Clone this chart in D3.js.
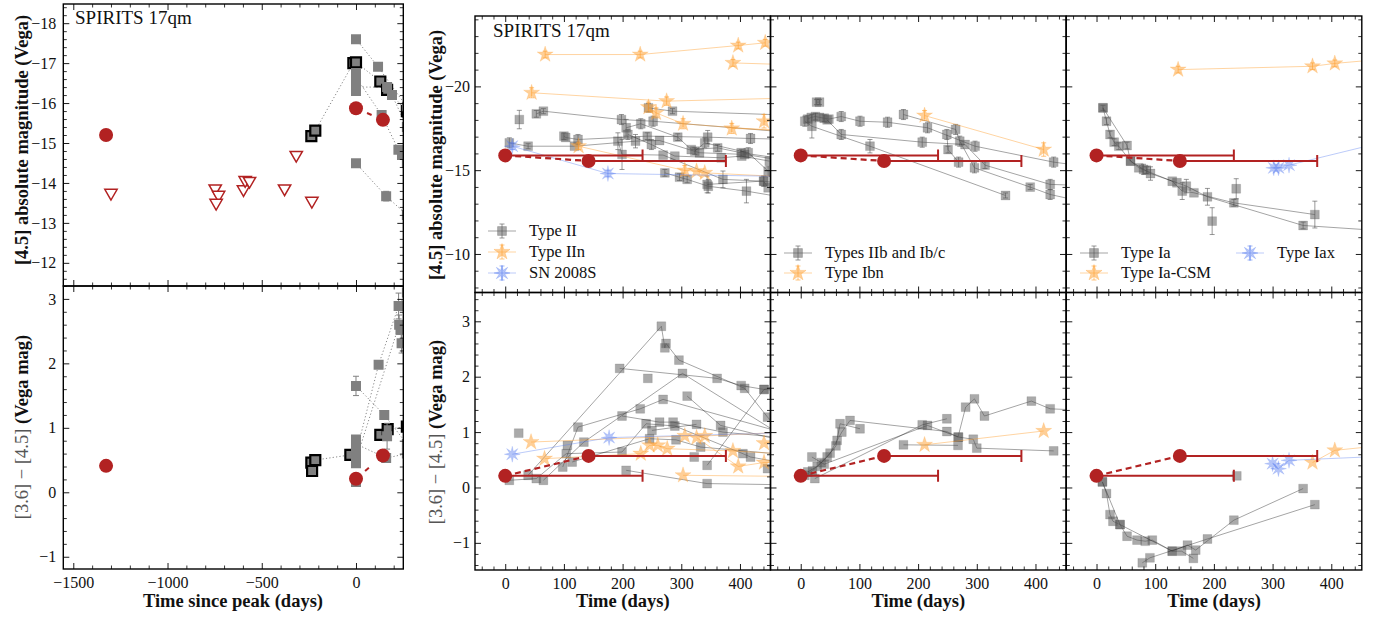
<!DOCTYPE html>
<html><head><meta charset="utf-8">
<script src="https://cdn.jsdelivr.net/npm/d3@7"></script>
<style>
body{margin:0;background:#fff}
svg{display:block}
text{font-family:"Liberation Serif","DejaVu Serif",serif;fill:#111}
</style>
</head><body><svg id="c" width="1374" height="618"></svg>
<script>
// ===================== DATA =====================
// Each point: [time (days), value, optional error]
// ---- left panels: SPIRITS 17qm full history ----
const qmLeftTime = [-1326, 0, 143];
const qmLeftMag  = [-15.2, -15.87, -15.58];
const qmLeftCol  = [0.41, 0.21, 0.57];
const limitTime  = [-1300, -747, -729, -742, -597, -588, -565, -379, -317, -234];
const limitMag   = [-13.75, -13.86, -13.7, -13.5, -13.84, -14.07, -14.05, -13.86, -14.7, -13.55];
const leftMagSeries = [
  [[-237,-15.17],[-216,-15.31],[-14,-17.0]],
  [[0,-17.02],[129,-16.54],[165,-16.33],[270,-15.8]],
  [[0,-17.6,0.06],[117,-16.91],[270,-15.9]],
  [[0,-16.65],[136,-15.7],[225,-14.83],[244,-14.7],[270,-14.5]],
  [[0,-16.4],[165,-16.4],[191,-16.2],[270,-15.4]],
  [[0,-14.49],[160,-13.67,0.12],[270,-13.2]],
  [[0,-16.55]],[[0,-16.3]],[[0,-16.75]]
];
const leftMagOutlined = [true,true,false,false,false,false,false,false,false];
const leftColSeries = [
  [[-237,0.46],[-233,0.33],[-216,0.5],[-30,0.58]],
  [[129,0.89],[168,0.98],[270,1.02]],
  [[0,1.65,0.15],[150,1.2],[270,0.75]],
  [[0,0.6],[120,1.98],[226,2.89,0.2],[270,3.1]],
  [[0,0.5],[229,2.6,0.15],[236,2.52],[242,2.31,0.15]],
  [[0,0.75],[160,0.53],[270,0.6]],
  [[0,0.45]],[[0,0.82]],[[0,0.68]],[[0,0.16]],[[165,0.87,0.2]]
];
const leftColOutlined = [true,true,false,false,false,false,false,false,false,false,false];

// ---- SPIRITS 17qm in comparison panels ----
const qmTime    = [0, 142];
const qmTimeErr = [234, 234];
const qmMag     = [-15.88, -15.55];
const qmCol     = [0.21, 0.57];

// ---- Type II / IIn / SN 2008S ----
const typeIIMag = [
  [[24,-18.02,0.55]],
  [[53,-18.36,0.2],[65,-18.52,0.15],[198,-18.02,0.3],[252,-17.92,0.3],[470,-17.3]],
  [[244,-18.72,0.25],[285,-18.52,0.15],[470,-18.3]],
  [[100,-17.03,0.2],[103,-16.95],[124,-16.83,0.3],[242,-17.03,0.2],[345,-16.97,0.4],[418,-16.89,0.3],[470,-16.85]],
  [[7,-16.63,0.3],[39,-16.43,0.15],[118,-16.43],[222,-16.73,0.4],[263,-16.77],[331,-16.04],[408,-15.94],[470,-15.6]],
  [[206,-17.53,0.5],[231,-17.77,0.3],[294,-16.97,0.2],[317,-16.23],[362,-16.33,0.2],[402,-16.04,0.2],[470,-15.7]],
  [[209,-17.13,0.3],[249,-16.53,0.3],[289,-15.84],[368,-15.74],[403,-15.84],[450,-15.54]],
  [[192,-16.73,0.5],[199,-15.94,0.9],[269,-15.9],[371,-14.45,0.5],[441,-14.34,0.3],[470,-14.2]],
  [[272,-14.84,0.2],[297,-14.58,0.2],[310,-14.45,0.2],[346,-14.04,0.4],[411,-13.75,0.7],[470,-13.4]],
  [[323,-16.14,0.2],[340,-16.63,0.3],[414,-16.04,0.3],[448,-14.94,0.3]],
  [[344,-14.15,0.5],[440,-14.35,0.3],[448,-13.95]]
];
const typeIInMag = [
  [[68,-21.9,0.2],[230,-21.9,0.2],[397,-22.44,0.2],[443,-22.6,0.2]],
  [[388,-21.4,0.2],[480,-21.3]],
  [[45,-19.62,0.3],[275,-19.12,0.25],[480,-19.3]],
  [[244,-18.76,0.3],[257,-18.42,0.3],[303,-17.77,0.3],[480,-17.3]],
  [[386,-17.49,0.3],[480,-17.4]],
  [[441,-17.92,0.4],[480,-17.95]],
  [[125,-16.43,0.2],[306,-14.98,0.3],[326,-14.94],[340,-14.84],[480,-14.6]]
];
const sn2008sMag = [[[12,-16.43,0.2],[175,-14.8,0.2],[520,-14.6]]];
const typeIICol = [
  [[39,0.22],[266,2.91],[272,2.52],[274,2.6],[296,2.3],[408,1.79],[447,1.27],[470,1.0]],
  [[195,2.15],[361,1.97],[402,1.84],[441,1.77],[470,1.75]],
  [[65,0.13],[134,0.82],[302,2.06],[470,0.95]],
  [[98,0.37],[124,1.09],[230,1.42],[269,1.59],[470,1.0]],
  [[7,0.13],[53,0.16],[104,0.61],[199,0.64],[240,1.15],[289,1.11],[405,0.61],[418,0.55],[470,0.45]],
  [[206,0.31],[344,0.07],[470,0.05]],
  [[310,1.65],[367,1.12],[470,0.85]],
  [[344,0.4],[441,1.77],[470,1.85]],
  [[250,1.03],[326,1.14]],
  [[114,0.46],[246,0.88],[291,0.86],[333,0.73],[470,0.6]],
  [[199,1.29],[263,1.18],[286,1.18],[371,1.0],[470,0.9]],
  [[23,0.98]],[[243,1.97]],[[106,0.76]],[[322,0.55]],[[447,0.34]]
];
const typeIInCol = [
  [[44,0.82],[306,0.93],[340,0.93],[480,1.0]],
  [[67,0.52],[231,0.61],[246,0.76],[260,0.76],[276,0.7],[388,0.66],[480,0.6]],
  [[303,0.22],[480,0.2]],
  [[326,0.9],[397,0.38],[441,0.45],[480,0.45]],
  [[441,0.8],[480,0.85]]
];
const sn2008sCol = [[[12,0.6],[177,0.9],[520,1.0]]];

// ---- Types IIb, Ib/c / Ibn ----
const typeIbcMag = [
  [[7,-17.92,0.3],[19,-17.62,0.7],[118,-16.43,0.4],[349,-13.49,0.15]],
  [[12,-18.05,0.2],[18,-18.15],[25,-18.2,0.2],[32,-18.15],[40,-18.1,0.2],[48,-18.05],[69,-18.2,0.3],[101,-17.92,0.3],[148,-17.86,0.3],[216,-17.53,0.3],[297,-16.43,0.3],[431,-15.48,0.3],[470,-15.3]],
  [[27,-19.06,0.15],[32,-19.06,0.15]],
  [[175,-18.32,0.3],[264,-17.43,0.3],[271,-16.73,0.3],[296,-15.14,0.3],[391,-13.99,0.15],[425,-13.55,0.3],[470,-13.2]],
  [[45,-18.0],[69,-17.13,0.3],[207,-16.67,0.3],[280,-16.53],[314,-15.3,0.2],[425,-14.15,0.3],[470,-14.1]],
  [[249,-17.13,0.3],[251,-16.23,0.2],[269,-15.48,0.3]]
];
const typeIbnMag = [[[211,-18.26,0.3],[414,-16.23,0.4]]];
const typeIbcCol = [
  [[7,0.22],[20,0.3],[35,0.45],[50,0.62],[62,0.85],[70,1.0],[84,1.21],[249,1.01],[268,0.91],[281,1.45],[296,1.6],[313,1.29],[393,1.56],[425,1.42],[470,1.4]],
  [[12,0.28],[28,0.38],[45,0.55],[60,0.75],[67,1.15],[101,1.06]],
  [[19,0.55],[40,0.42],[216,1.12],[269,0.91],[294,0.87],[300,0.71],[431,0.66]],
  [[24,0.16],[207,1.13],[249,1.24]],
  [[175,0.77],[268,0.76]]
];
const typeIbnCol = [[[211,0.77],[414,1.02]]];

// ---- Type Ia / Ia-CSM / Iax ----
const typeIaMag = [
  [[11,-18.72,0.15],[52,-16.47,0.2],[58,-15.54],[72,-15.14],[129,-14.34],[146,-13.75,0.5],[166,-13.65],[234,-13.05,0.2],[372,-12.35,0.8]],
  [[11,-18.72],[17,-17.92,0.2],[23,-17.13,0.2],[30,-16.67,0.2],[38,-16.43,0.2],[58,-15.54],[80,-15.05,0.3],[92,-14.8,0.4],[137,-14.25],[153,-14.05,0.4],[189,-13.41,0.5],[352,-11.7,0.2],[480,-11.4]],
  [[197,-11.96,0.8]],[[238,-13.89,0.6]],[[85,-15.0,0.2]]
];
const typeIaCsmMag = [[[139,-21.0,0.2],[368,-21.2,0.2],[406,-21.37,0.2],[480,-21.6]]];
const typeIaxMag = [[[302,-15.14],[310,-15.14],[328,-15.3],[480,-16.6]]];
const typeIaCol = [
  [[10,0.1],[17,-0.11],[23,-0.49],[28,-0.61],[40,-0.67],[52,-0.88],[69,-0.95],[83,-0.97],[95,-0.95],[129,-1.15],[155,-1.04],[169,-1.13],[234,-0.59],[352,-0.02]],
  [[10,0.1],[40,-0.67],[129,-1.15],[145,-1.15],[165,-1.28]],
  [[78,-1.36],[91,-1.27],[189,-0.93],[372,-0.31]],
  [[239,0.21]]
];
const typeIaCsmCol = [[[368,0.45],[406,0.67],[480,0.75]]];
const typeIaxCol = [[[300,0.43],[310,0.34],[328,0.49],[480,0.56]]];

// ---- labels ----
const objectName = "SPIRITS 17qm";
const magLabel = "[4.5] absolute magnitude (Vega)";
const colLabelMath = "[3.6] \u2212 [4.5]";
const colLabelText = " (Vega mag)";
const leftXLabel = "Time since peak (days)";
const midXLabel = "Time (days)";
const legendNames = [["Type II","Type IIn","SN 2008S"],["Types IIb and Ib/c","Type Ibn"],["Type Ia","Type Ia-CSM","Type Iax"]];

// ===================== LAYOUT / SCALES =====================
const svg = d3.select("#c");
const RED = "#b22222";
const xL  = d3.scaleLinear().domain([-1553, 251]).range([63.3, 403.3]);
const yLT = d3.scaleLinear().domain([-18.48, -11.42]).range([4, 286]);
const yLB = d3.scaleLinear().domain([3.2, -1.19]).range([286, 569]);
const colX = [475, 770.5, 1066.3], colW = 295.5;
const xM  = colX.map(x0 => d3.scaleLinear().domain([-51.5, 452]).range([x0, x0 + colW]));
const yMT = d3.scaleLinear().domain([-24.2, -7.7]).range([16, 292.5]);
const yMB = d3.scaleLinear().domain([3.52, -1.49]).range([292.5, 570]);

const fmt = d3.format("d");
function rangeVals(a, b, step){
  const lo = Math.min(a,b), hi = Math.max(a,b), out = [];
  for (let v = Math.ceil(lo/step - 1e-9)*step; v <= hi + 1e-9; v += step) out.push(Math.round(v*1000)/1000);
  return out;
}
let clipId = 0;
function panel(x, y, o){
  const g = svg.append("g");
  const [x0,x1] = x.range(), [y0,y1] = y.range();
  const id = "clip" + (clipId++);
  svg.append("clipPath").attr("id", id).append("rect").attr("x",x0).attr("y",y0).attr("width",x1-x0).attr("height",y1-y0);
  const xMaj = rangeVals(...x.domain(), o.xMaj), xMin = rangeVals(...x.domain(), o.xMin).filter(v=>!xMaj.some(m=>Math.abs(m-v)<1e-6));
  const yMaj = rangeVals(...y.domain(), o.yMaj), yMin = rangeVals(...y.domain(), o.yMin).filter(v=>!yMaj.some(m=>Math.abs(m-v)<1e-6));
  const ax = [
    [d3.axisBottom(x), `translate(0,${y1})`, xMaj, xMin, o.xLab, 8],
    [d3.axisTop(x),    `translate(0,${y0})`, xMaj, xMin, false, 8],
    [d3.axisLeft(y),   `translate(${x0},0)`, yMaj, yMin, o.yLab, o.yPad],
    [d3.axisRight(y),  `translate(${x1},0)`, yMaj, yMin, false, 8]
  ];
  ax.forEach(([a, tr, maj, mn, lab, pad]) => {
    const gm = g.append("g").attr("transform", tr)
      .call(a.tickValues(maj).tickSize(-6).tickPadding(pad).tickFormat(lab ? fmt : ""));
    gm.select(".domain").remove();
    gm.selectAll("line").attr("stroke","#000").attr("stroke-width",0.9);
    gm.selectAll("text").attr("font-size",16).attr("fill","#3a3a3a");
  });
  ax.forEach(([a, tr, maj, mn]) => {
    const gn = g.append("g").attr("transform", tr)
      .call(a.tickValues(mn).tickSize(-3.5).tickFormat(""));
    gn.select(".domain").remove();
    gn.selectAll("line").attr("stroke","#000").attr("stroke-width",0.8);
  });
  g.append("rect").attr("x",x0).attr("y",y0).attr("width",x1-x0).attr("height",y1-y0)
    .attr("fill","none").attr("stroke","#000").attr("stroke-width",1.4);
  const data = svg.insert("g", ":first-child").attr("clip-path", `url(#${id})`);
  return {g, data};
}

// marker generators
const symSq   = d3.symbol(d3.symbolSquare, 78);
const symSqL  = d3.symbol(d3.symbolSquare, 100);
const symStar = d3.symbol(d3.symbolStar, 80);
const symCirc = d3.symbol(d3.symbolCircle, Math.PI*7*7);
const symTri  = d3.symbol(d3.symbolTriangle, 66);
function asterisk(r){
  const p = [];
  for (let i=0;i<16;i++){ const a = i*Math.PI/8 - Math.PI/2, rr = i%2 ? r*0.38 : r; p.push([rr*Math.cos(a), rr*Math.sin(a)]); }
  return "M" + p.map(q=>q[0].toFixed(2)+","+q[1].toFixed(2)).join("L") + "Z";
}
const STY = {
  sq:   {fill:"#555", op:0.5, line:"#000", lop:0.4, path:()=>symSq()},
  star: {fill:"#ffa030", op:0.5, line:"#ffa030", lop:0.5, path:()=>symStar()},
  ast:  {fill:"#5a7ff0", op:0.45, line:"#5a7ff0", lop:0.45, path:()=>asterisk(8)}
};
function drawSeries(layer, series, x, y, kind){
  const s = STY[kind];
  const line = d3.line().x(d=>x(d[0])).y(d=>y(d[1]));
  series.forEach(pts => {
    const g = layer.append("g");
    if (pts.length > 1)
      g.append("path").attr("d", line(pts)).attr("fill","none").attr("stroke",s.line)
        .attr("stroke-opacity",s.lop).attr("stroke-width",0.9);
    pts.filter(d=>d[2]).forEach(d => {
      const px = x(d[0]), ya = y(d[1]-d[2]), yb = y(d[1]+d[2]);
      const eb = g.append("g").attr("stroke",s.fill).attr("stroke-opacity",s.op+0.1).attr("stroke-width",1);
      eb.append("line").attr("x1",px).attr("x2",px).attr("y1",ya).attr("y2",yb);
      eb.append("line").attr("x1",px-2.5).attr("x2",px+2.5).attr("y1",ya).attr("y2",ya);
      eb.append("line").attr("x1",px-2.5).attr("x2",px+2.5).attr("y1",yb).attr("y2",yb);
    });
    g.selectAll("path.m").data(pts).join("path").attr("class","m")
      .attr("transform", d=>`translate(${x(d[0])},${y(d[1])})`)
      .attr("d", s.path).attr("fill", s.fill).attr("fill-opacity", s.op)
      .attr("stroke", s.fill).attr("stroke-opacity", s.op*0.6).attr("stroke-width",0.6);
  });
}
function drawQm(layer, x, y, vals){
  qmTime.forEach((t,i) => {
    const yy = y(vals[i]), xa = x(t), xb = x(t + qmTimeErr[i]);
    layer.append("line").attr("x1",xa).attr("x2",xb).attr("y1",yy).attr("y2",yy).attr("stroke",RED).attr("stroke-width",2);
    layer.append("line").attr("x1",xb).attr("x2",xb).attr("y1",yy-6).attr("y2",yy+6).attr("stroke",RED).attr("stroke-width",2);
  });
  layer.append("path").attr("d", d3.line()(qmTime.map((t,i)=>[x(t), y(vals[i])])))
    .attr("fill","none").attr("stroke",RED).attr("stroke-width",2.2).attr("stroke-dasharray","6,4");
  layer.selectAll("path.qm").data(qmTime).join("path").attr("class","qm")
    .attr("transform",(t,i)=>`translate(${x(t)},${y(vals[i])})`).attr("d",symCirc()).attr("fill",RED);
}

// ===================== LEFT PANELS =====================
function leftPanel(y, series, outlined, redVals, withLimits){
  const p = panel(xL, y, {xMaj:500, xMin:100, yMaj:1, yMin:0.2, xLab: y===yLB, yLab:true, yPad:7});
  const line = d3.line().x(d=>xL(d[0])).y(d=>y(d[1]));
  series.forEach(pts => { if (pts.length>1) p.data.append("path").attr("d",line(pts)).attr("fill","none")
      .attr("stroke","#888").attr("stroke-width",1).attr("stroke-dasharray","1.2,2.2"); });
  series.forEach((pts,i) => {
    pts.filter(d=>d[2]).forEach(d => {
      const px = xL(d[0]), ya=y(d[1]-d[2]), yb=y(d[1]+d[2]);
      const eb = p.data.append("g").attr("stroke","#808080").attr("stroke-width",1);
      eb.append("line").attr("x1",px).attr("x2",px).attr("y1",ya).attr("y2",yb);
      eb.append("line").attr("x1",px-3).attr("x2",px+3).attr("y1",ya).attr("y2",ya);
      eb.append("line").attr("x1",px-3).attr("x2",px+3).attr("y1",yb).attr("y2",yb);
    });
    p.data.selectAll(null).data(pts).join("path")
      .attr("transform", d=>`translate(${xL(d[0])},${y(d[1])})`).attr("d", symSqL())
      .attr("fill","#808080").attr("stroke", outlined[i] ? "#000" : "none").attr("stroke-width", 2.2);
  });
  if (withLimits){
    p.data.selectAll("path.lim").data(limitTime).join("path").attr("class","lim")
      .attr("transform",(t,i)=>`translate(${xL(t)},${y(limitMag[i])}) rotate(180)`)
      .attr("d", symTri()).attr("fill","#fff").attr("stroke",RED).attr("stroke-width",1.5);
  }
  p.data.append("path").attr("d", d3.line()(qmLeftTime.slice(1).map((t,i)=>[xL(t), y(redVals[i+1])])))
    .attr("fill","none").attr("stroke",RED).attr("stroke-width",2).attr("stroke-dasharray","5,20").attr("stroke-dashoffset",-12);
  p.data.selectAll("path.qm").data(qmLeftTime).join("path").attr("class","qm")
    .attr("transform",(t,i)=>`translate(${xL(t)},${y(redVals[i])})`).attr("d",symCirc()).attr("fill",RED);
  return p;
}
leftPanel(yLT, leftMagSeries, leftMagOutlined, qmLeftMag, true);
leftPanel(yLB, leftColSeries, leftColOutlined, qmLeftCol, false);

// ===================== COMPARISON PANELS =====================
const topSets = [
  [[typeIIMag,"sq"],[typeIInMag,"star"],[sn2008sMag,"ast"]],
  [[typeIbcMag,"sq"],[typeIbnMag,"star"]],
  [[typeIaMag,"sq"],[typeIaCsmMag,"star"],[typeIaxMag,"ast"]]
];
const botSets = [
  [[typeIICol,"sq"],[typeIInCol,"star"],[sn2008sCol,"ast"]],
  [[typeIbcCol,"sq"],[typeIbnCol,"star"]],
  [[typeIaCol,"sq"],[typeIaCsmCol,"star"],[typeIaxCol,"ast"]]
];
[0,1,2].forEach(c => {
  const pt = panel(xM[c], yMT, {xMaj:100, xMin:20, yMaj:5, yMin:1, xLab:false, yLab:c===0, yPad:5});
  topSets[c].forEach(([s,k]) => drawSeries(pt.data, s, xM[c], yMT, k));
  drawQm(pt.data, xM[c], yMT, qmMag);
  const pb = panel(xM[c], yMB, {xMaj:100, xMin:20, yMaj:1, yMin:0.2, xLab:true, yLab:c===0, yPad:5});
  botSets[c].forEach(([s,k]) => drawSeries(pb.data, s, xM[c], yMB, k));
  drawQm(pb.data, xM[c], yMB, qmCol);
});

// ===================== LEGENDS =====================
function legendItem(cx, cy, kind, label){
  const s = STY[kind], g = svg.append("g");
  g.append("line").attr("x1",cx-14).attr("x2",cx+14).attr("y1",cy).attr("y2",cy)
    .attr("stroke",s.line).attr("stroke-opacity",s.lop).attr("stroke-width",0.9);
  const eb = g.append("g").attr("stroke",s.fill).attr("stroke-opacity",s.op+0.1);
  eb.append("line").attr("x1",cx).attr("x2",cx).attr("y1",cy-7).attr("y2",cy+7);
  eb.append("line").attr("x1",cx-2.5).attr("x2",cx+2.5).attr("y1",cy-7).attr("y2",cy-7);
  eb.append("line").attr("x1",cx-2.5).attr("x2",cx+2.5).attr("y1",cy+7).attr("y2",cy+7);
  g.append("path").attr("transform",`translate(${cx},${cy})`).attr("d",s.path())
    .attr("fill",s.fill).attr("fill-opacity",s.op).attr("stroke",s.fill).attr("stroke-opacity",s.op*0.6);
  g.append("text").attr("x",cx+27).attr("y",cy).attr("dy","0.33em").attr("font-size",16.5).text(label);
}
legendItem(502, 231, "sq", legendNames[0][0]);
legendItem(502, 252, "star", legendNames[0][1]);
legendItem(502, 273, "ast", legendNames[0][2]);
legendItem(798, 253, "sq", legendNames[1][0]);
legendItem(798, 273, "star", legendNames[1][1]);
legendItem(1094, 253, "sq", legendNames[2][0]);
legendItem(1094, 273, "star", legendNames[2][1]);
legendItem(1250, 253, "ast", legendNames[2][2]);

// ===================== TEXT =====================
svg.append("text").attr("x",75).attr("y",24).attr("font-size",19).text(objectName);
svg.append("text").attr("x",493).attr("y",37).attr("font-size",19).text(objectName);
function ylab(x, y, main){
  const t = svg.append("text").attr("transform",`translate(${x},${y}) rotate(-90)`)
    .attr("text-anchor","middle").attr("dy","0.35em").attr("font-size",18.5);
  if (main) t.attr("font-weight","bold").text(magLabel);
  else { t.append("tspan").attr("fill","#555").text(colLabelMath); t.append("tspan").attr("font-weight","bold").text(colLabelText); }
}
ylab(22, 140, true);
ylab(22, 427, false);
ylab(436, 155, true);
ylab(436, 432, false);
svg.append("text").attr("x",233).attr("y",607).attr("text-anchor","middle").attr("font-size",18.5).attr("font-weight","bold").text(leftXLabel);
colX.forEach(x0 => svg.append("text").attr("x",x0+colW/2).attr("y",607).attr("text-anchor","middle").attr("font-size",18.5).attr("font-weight","bold").text(midXLabel));
</script></body></html>
